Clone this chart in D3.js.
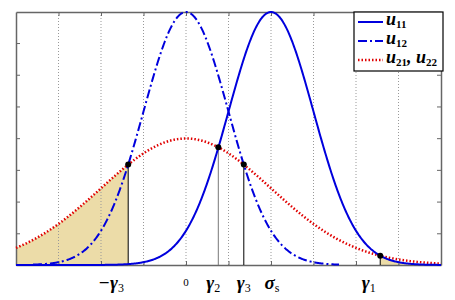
<!DOCTYPE html>
<html>
<head>
<script src="https://d3js.org/d3.v7.min.js"></script>
<style>
  body { margin: 0; background: #fff; }
  .lbl { font-family: "Liberation Serif", serif; font-style: italic; font-weight: bold; }
</style>
</head>
<body>
<script>
// x positions of gridlines / ticks
var xTicks = [-3, -2, -1, 0, 1, 2, 3, 4, 5];
var yTicks = [0.05, 0.1, 0.15, 0.2, 0.25, 0.3, 0.35];
// gaussian curves: name, mean, sd, plotted range
var curveNames = ["u11", "u12", "u21,u22"];
var curveMeans = [2, 0, 0];
var curveSds = [1, 1, 2];
var curveRanges = [[-4, 6], [-3.6, 3.6], [-4, 6]];
// thresholds
var gamma1 = 4.57, gamma2 = 0.76, gamma3 = 1.36, sigmaS = 2;
var axisLabels = [
  {v: -gamma3 - 0.4, t: "−γ", s: "3"},
  {v: 0, t: "0", s: ""},
  {v: gamma2 - 0.12, t: "γ", s: "2"},
  {v: gamma3 + 0.0, t: "γ", s: "3"},
  {v: sigmaS + 0.02, t: "σ", s: "s"},
  {v: 4.3, t: "γ", s: "1"}
];

var width = 455, height = 300;
var pLeft = 16, pRight = 441, pTop = 12, pBottom = 265;

var svg = d3.select("body").append("svg")
  .attr("width", width).attr("height", height);

var x = d3.scaleLinear().domain([-4, 6]).range([pLeft, pRight]);
var y = d3.scaleLinear().domain([0, 1 / Math.sqrt(2 * Math.PI)]).range([pBottom, pTop]);

function pdf(v, m, s) {
  return Math.exp(-(v - m) * (v - m) / (2 * s * s)) / (s * Math.sqrt(2 * Math.PI));
}
function samples(a, b) { return d3.range(a, b + 0.0001, 0.02); }

// shaded areas
var area = d3.area().x(function(d){ return x(d[0]); }).y0(y(0)).y1(function(d){ return y(d[1]); });
svg.append("path")
  .datum(samples(-4, -gamma3).map(function(v){ return [v, pdf(v, 0, 2)]; }))
  .attr("d", area).attr("fill", "#ecdca8");
svg.append("path")
  .datum(samples(gamma1, 6).map(function(v){ return [v, pdf(v, 2, 1)]; }))
  .attr("d", area).attr("fill", "#ecdca8");

// gridlines
svg.selectAll(".grid").data(xTicks).enter().append("line")
  .attr("x1", function(d){ return x(d); }).attr("x2", function(d){ return x(d); })
  .attr("y1", pTop).attr("y2", pBottom)
  .attr("stroke", "#999").attr("stroke-width", 1).attr("stroke-dasharray", "1,2");

// axes
svg.append("g").attr("transform", "translate(0," + pBottom + ")")
  .call(d3.axisTop(x).tickValues(xTicks).tickSize(4).tickSizeOuter(0).tickFormat(""));
svg.append("g").attr("transform", "translate(0," + pTop + ")")
  .call(d3.axisBottom(x).tickValues(xTicks).tickSize(4).tickSizeOuter(0).tickFormat(""));
svg.append("g").attr("transform", "translate(" + pLeft + ",0)")
  .call(d3.axisRight(y).tickValues(yTicks).tickSize(4).tickSizeOuter(0).tickFormat(""));
svg.append("g").attr("transform", "translate(" + pRight + ",0)")
  .call(d3.axisLeft(y).tickValues(yTicks).tickSize(4).tickSizeOuter(0).tickFormat(""));
svg.selectAll(".domain, .tick line").attr("stroke", "#666");
svg.selectAll(".domain").attr("stroke-width", 1.5);

// vertical markers
var vlines = [
  {v: -gamma3, c: "#000"},
  {v: gamma2, c: "#777"},
  {v: gamma3, c: "#000"},
  {v: gamma1, c: "#000"}
];
svg.selectAll(".vl").data(vlines).enter().append("line")
  .attr("x1", function(d){ return x(d.v); }).attr("x2", function(d){ return x(d.v); })
  .attr("y1", pBottom).attr("y2", function(d){ return y(pdf(d.v, 0, 2)); })
  .attr("stroke", function(d){ return d.c; }).attr("stroke-width", 1);

// curves
var line = d3.line().x(function(d){ return x(d[0]); }).y(function(d){ return y(d[1]); });
var styles = [
  {c: "#0000dd", w: 2, dash: null},
  {c: "#0000dd", w: 2, dash: "9,3,2,3"},
  {c: "#e00000", w: 2.5, dash: "1.5,2"}
];
[2, 1, 0].forEach(function(i) {
  svg.append("path")
    .datum(samples(curveRanges[i][0], curveRanges[i][1]).map(function(v){ return [v, pdf(v, curveMeans[i], curveSds[i])]; }))
    .attr("d", line).attr("fill", "none")
    .attr("stroke", styles[i].c).attr("stroke-width", styles[i].w)
    .attr("stroke-dasharray", styles[i].dash);
});

// intersection dots
var dots = [-gamma3, gamma2, gamma3, gamma1];
svg.selectAll(".dot").data(dots).enter().append("circle")
  .attr("cx", function(d){ return x(d); })
  .attr("cy", function(d){ return y(pdf(d, 0, 2)); })
  .attr("r", 3).attr("fill", "#000");

// x labels
var lbl = svg.selectAll(".xl").data(axisLabels).enter().append("text")
  .attr("class", "lbl")
  .attr("x", function(d){ return x(d.v); }).attr("y", function(d){ return d.t === "0" ? 286 : 289; })
  .attr("text-anchor", "middle")
  .style("font-size", function(d){ return d.t === "0" ? "11px" : "19px"; })
  .style("font-style", function(d){ return d.t === "0" ? "normal" : "italic"; })
  .style("font-weight", function(d){ return d.t === "0" ? "normal" : "bold"; });
lbl.append("tspan").text(function(d){ return d.t; });
lbl.append("tspan").attr("dy", 3).style("font-size", "12px").style("font-style", "normal")
  .style("font-weight", "normal").text(function(d){ return d.s; });

// legend
var lg = svg.append("g");
lg.append("rect").attr("x", 354).attr("y", pTop).attr("width", 89).attr("height", 59)
  .attr("fill", "#fff").attr("stroke", "#000").attr("stroke-width", 1.2);
var legSubs = [["11"], ["12"], ["21", "22"]];
curveNames.forEach(function(n, i) {
  var yy = 22 + i * 19;
  lg.append("line").attr("x1", 358).attr("x2", 383).attr("y1", yy).attr("y2", yy)
    .attr("stroke", styles[i].c).attr("stroke-width", styles[i].w)
    .attr("stroke-dasharray", styles[i].dash);
  var t = lg.append("text").attr("class", "lbl").attr("x", 386).attr("y", yy + 3)
    .style("font-size", "18px");
  legSubs[i].forEach(function(s, j) {
    t.append("tspan").attr("dy", j === 0 ? 0 : -3).text(j === 0 ? "u" : ", u");
    t.append("tspan").attr("dy", 3).style("font-size", "11px").style("font-style", "normal").text(s);
  });
});
</script>
</body>
</html>
